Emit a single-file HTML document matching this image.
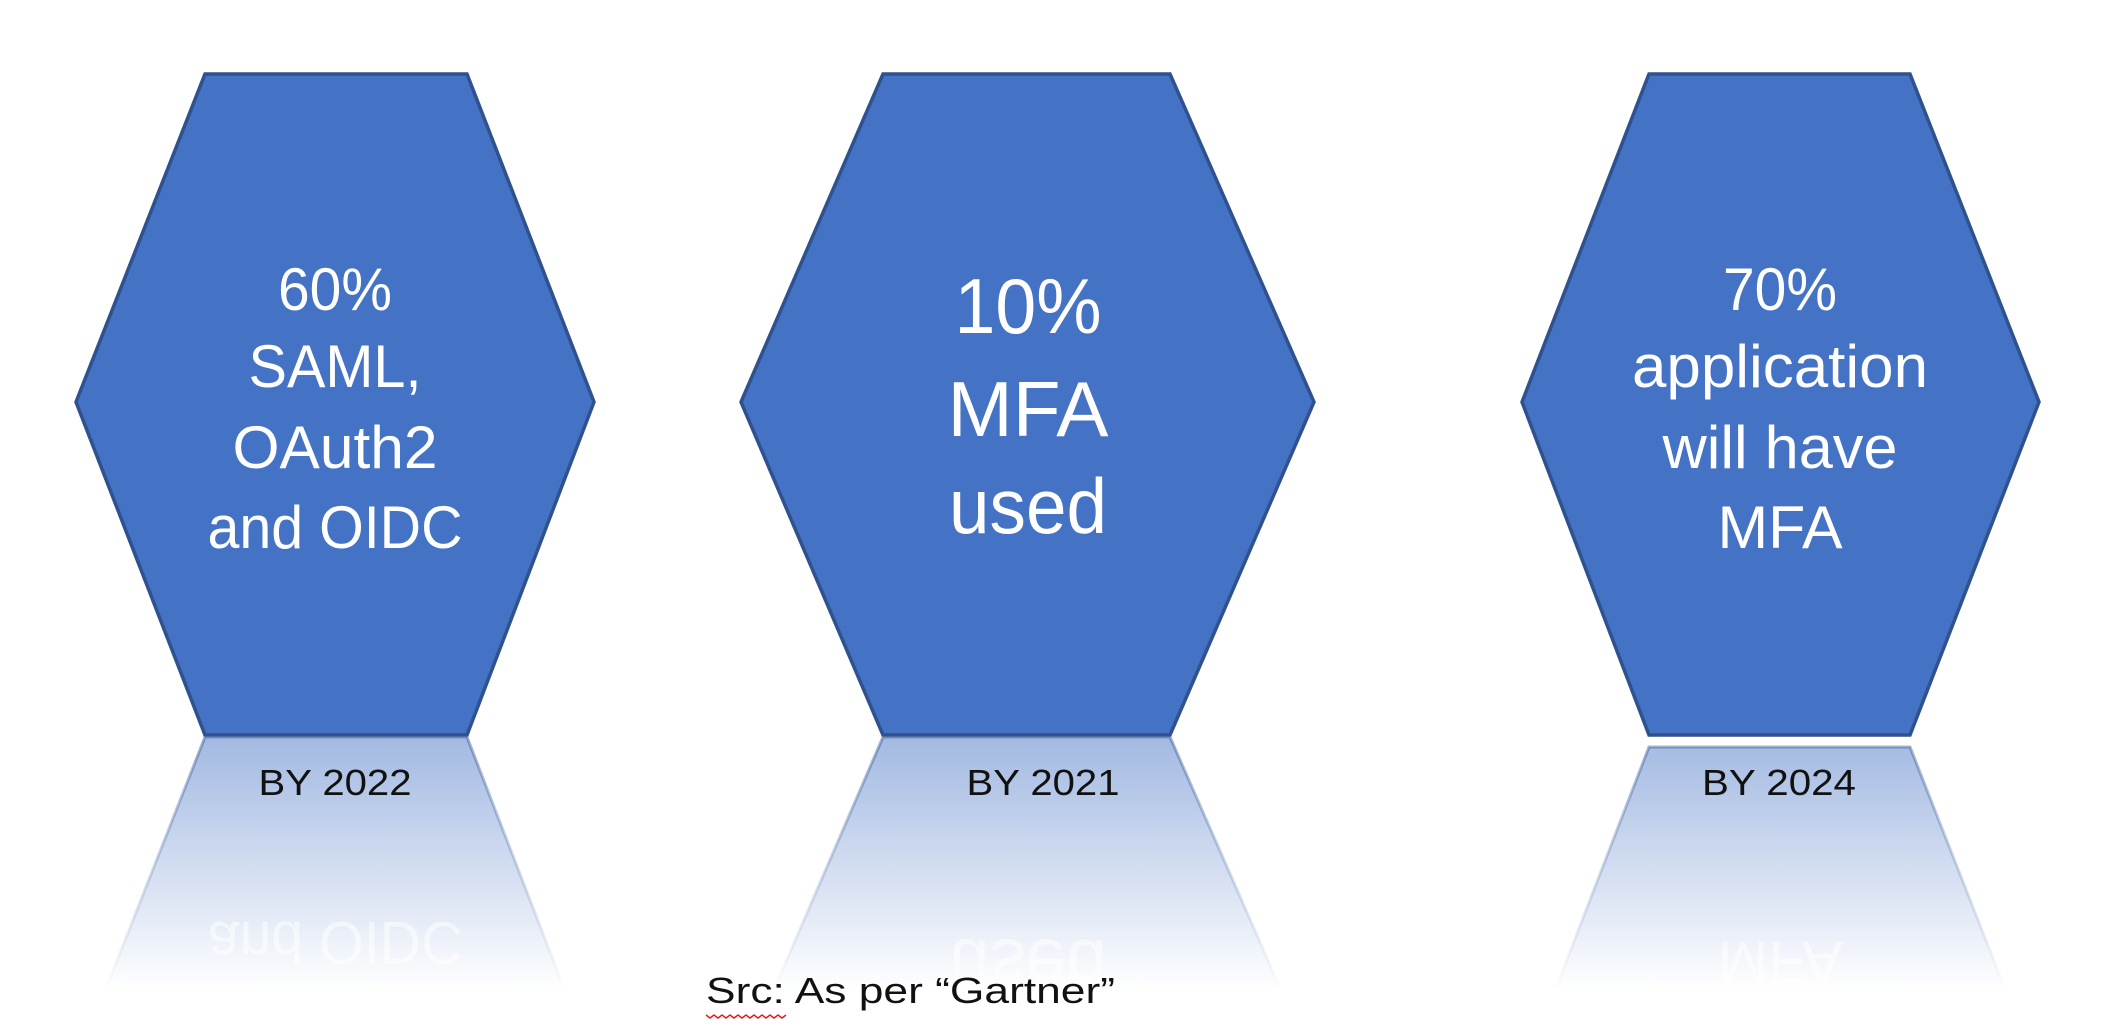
<!DOCTYPE html>
<html><head><meta charset="utf-8"><title>Gartner predictions</title>
<style>html,body{margin:0;padding:0;background:#fff;width:2102px;height:1026px;overflow:hidden;}svg{display:block;overflow:hidden;}</style></head>
<body>
<svg width="2102" height="1026" viewBox="0 0 2102 1026" xmlns="http://www.w3.org/2000/svg">
<defs>
<linearGradient id="rg" x1="0" y1="735" x2="0" y2="990" gradientUnits="userSpaceOnUse">
<stop offset="0" stop-color="#4472C4" stop-opacity="0.5"/>
<stop offset="1" stop-color="#4472C4" stop-opacity="0"/>
</linearGradient>
<linearGradient id="rs" x1="0" y1="735" x2="0" y2="990" gradientUnits="userSpaceOnUse">
<stop offset="0" stop-color="#2F528F" stop-opacity="0.45"/>
<stop offset="1" stop-color="#2F528F" stop-opacity="0"/>
</linearGradient>
</defs>

<!-- Hexagon 1 -->
<g>
<polygon points="205,737 467,737 578,1024 92,1024" fill="url(#rg)" stroke="url(#rs)" stroke-width="3"/>
<polygon points="205,74 467,74 594,402 467,735 205,735 76,402" fill="#4472C4" stroke="#2F528F" stroke-width="3.5"/>
<g fill="#fff" font-family="'Liberation Sans', sans-serif" font-size="60" text-anchor="middle">
<text x="335" y="310" textLength="114" lengthAdjust="spacingAndGlyphs">60%</text>
<text x="335" y="387" textLength="173" lengthAdjust="spacingAndGlyphs">SAML,</text>
<text x="335" y="468" textLength="205" lengthAdjust="spacingAndGlyphs">OAuth2</text>
<text x="335" y="548" textLength="255" lengthAdjust="spacingAndGlyphs">and OIDC</text>
<text x="335" y="-922" transform="scale(1,-1)" fill-opacity="0.5" textLength="255" lengthAdjust="spacingAndGlyphs">and OIDC</text>
</g>
<text x="335" y="795" font-family="'Liberation Sans', sans-serif" font-size="36" fill="#111" text-anchor="middle" textLength="153" lengthAdjust="spacingAndGlyphs">BY 2022</text>
</g>

<!-- Hexagon 2 -->
<g>
<polygon points="883,737 1170,737 1296,1024 759,1024" fill="url(#rg)" stroke="url(#rs)" stroke-width="3"/>
<polygon points="883,74 1170,74 1314,402 1170,735 883,735 741,402" fill="#4472C4" stroke="#2F528F" stroke-width="3.5"/>
<g fill="#fff" font-family="'Liberation Sans', sans-serif" font-size="78" text-anchor="middle">
<text x="1028" y="333" textLength="147" lengthAdjust="spacingAndGlyphs">10%</text>
<text x="1028" y="436" textLength="161" lengthAdjust="spacingAndGlyphs">MFA</text>
<text x="1028" y="533" textLength="158" lengthAdjust="spacingAndGlyphs">used</text>
<text x="1028" y="-940" transform="scale(1,-1)" fill-opacity="0.5" textLength="158" lengthAdjust="spacingAndGlyphs">used</text>
</g>
<text x="1043" y="795" font-family="'Liberation Sans', sans-serif" font-size="36" fill="#111" text-anchor="middle" textLength="153" lengthAdjust="spacingAndGlyphs">BY 2021</text>
</g>

<!-- Hexagon 3 -->
<g>
<polygon points="1649,747 1910,747 2019,1024 1542,1024" fill="url(#rg)" stroke="url(#rs)" stroke-width="3"/>
<polygon points="1649,74 1910,74 2039,402 1910,735 1649,735 1522,402" fill="#4472C4" stroke="#2F528F" stroke-width="3.5"/>
<g fill="#fff" font-family="'Liberation Sans', sans-serif" font-size="60" text-anchor="middle">
<text x="1780" y="310" textLength="114" lengthAdjust="spacingAndGlyphs">70%</text>
<text x="1780" y="387" textLength="296" lengthAdjust="spacingAndGlyphs">application</text>
<text x="1780" y="468" textLength="235" lengthAdjust="spacingAndGlyphs">will have</text>
<text x="1780" y="548" textLength="125" lengthAdjust="spacingAndGlyphs">MFA</text>
<text x="1780" y="-942" transform="scale(1,-1)" fill-opacity="0.5" textLength="125" lengthAdjust="spacingAndGlyphs">MFA</text>
</g>
<text x="1779" y="795" font-family="'Liberation Sans', sans-serif" font-size="36" fill="#111" text-anchor="middle" textLength="154" lengthAdjust="spacingAndGlyphs">BY 2024</text>
</g>

<text x="706" y="1003" font-family="'Liberation Sans', sans-serif" font-size="36" fill="#111" textLength="409" lengthAdjust="spacingAndGlyphs">Src: As per “Gartner”</text>
<path d="M706,1015 l4,3 l4,-3 l4,3 l4,-3 l4,3 l4,-3 l4,3 l4,-3 l4,3 l4,-3 l4,3 l4,-3 l4,3 l4,-3 l4,3 l4,-3 l4,3 l4,-3 l4,3 l4,-3" fill="none" stroke="#e02020" stroke-width="1.5"/>
</svg>
</body></html>
